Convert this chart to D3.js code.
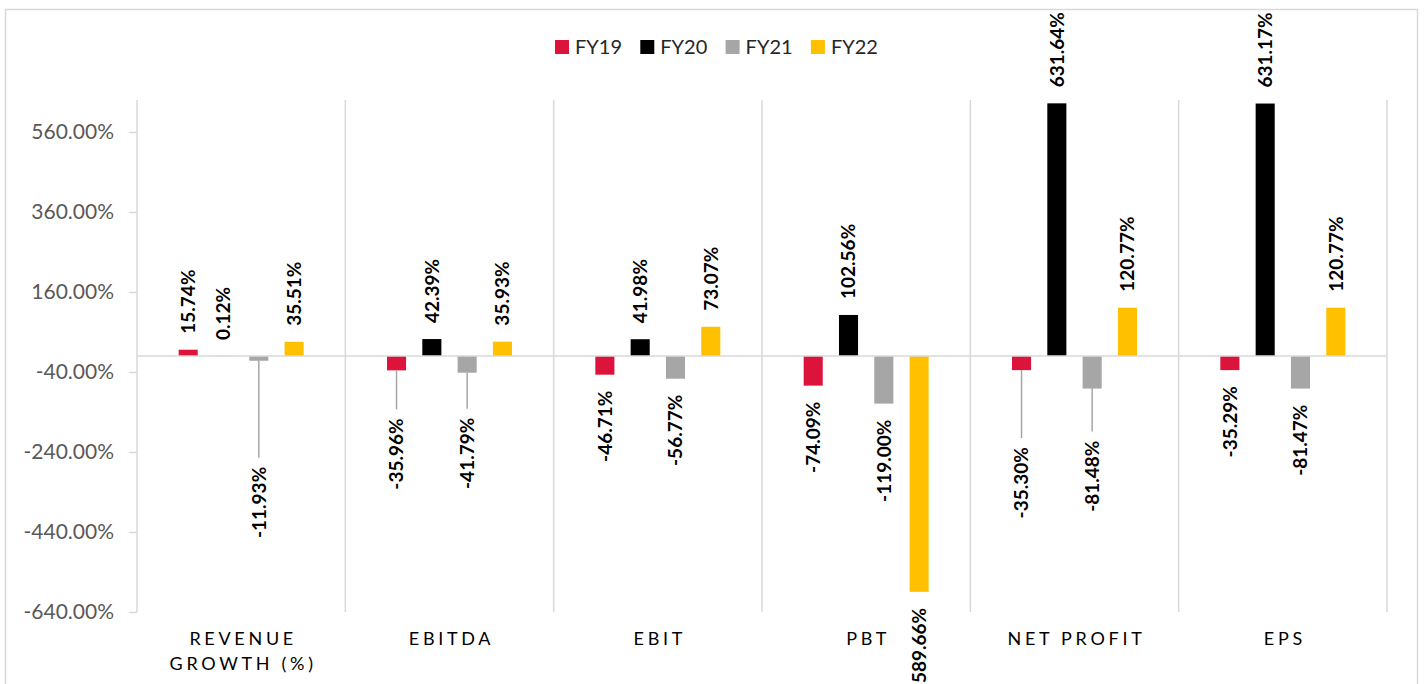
<!DOCTYPE html>
<meta charset="utf-8">
<title>Growth FY19 - FY22</title>
<style>
  body { margin: 0; background: #fff; }
  svg { display: block; font-family: Lato, "Noto Sans", sans-serif; }
</style>
<body>
<script src="https://cdn.jsdelivr.net/npm/d3@7"></script>
<script>
    // data (percent)
    const categories = ["REVENUE GROWTH (%)", "EBITDA", "EBIT", "PBT", "NET PROFIT", "EPS"];
    const seriesNames = ["FY19", "FY20", "FY21", "FY22"];
    const fy19 = [15.74, -35.96, -46.71, -74.09, -35.30, -35.29];
    const fy20 = [0.12, 42.39, 41.98, 102.56, 631.64, 631.17];
    const fy21 = [-11.93, -41.79, -56.77, -119.00, -81.48, -81.47];
    const fy22 = [35.51, 35.93, 73.07, -589.66, 120.77, 120.77];
    const yTicks = [-640, -440, -240, -40, 160, 360, 560];
    const colors = ["#dc143c", "#000000", "#a6a6a6", "#ffc000"];

    // labels that were dragged down in the original, extra px below default spot
    const labelNudge = {
        "REVENUE GROWTH (%)|FY21": 90,
        "EBITDA|FY19": 32,
        "EBITDA|FY21": 29,
        "NET PROFIT|FY19": 61,
        "NET PROFIT|FY21": 36
    };

    // plain hyphen for negatives, like the original
    const pct = v => v.toFixed(2) + "%";

    var width = 1424,
        height = 684;
    var margin = {top: 100, right: 37, bottom: 72, left: 137};

    var svg = d3.select("body").append("svg")
        .attr("width", width)
        .attr("height", height);

    // outer chart border
    svg.append("rect")
        .attr("x", 5.5).attr("y", 9.5)
        .attr("width", 1412).attr("height", 700)
        .attr("fill", "none")
        .attr("stroke", "#d9d9d9")
        .attr("stroke-width", 1.5);

    var x0 = d3.scaleBand()
        .domain(categories)
        .range([margin.left, width - margin.right]);

    var x1 = d3.scaleBand()
        .domain(seriesNames)
        .range([0, x0.bandwidth()])
        .paddingInner(0.46)
        .paddingOuter(1.18);

    var y = d3.scaleLinear()
        .domain([-640, 640])
        .range([height - margin.bottom, margin.top]);

    var color = d3.scaleOrdinal(seriesNames, colors);

    var rows = [];
    categories.forEach(function(c, i) {
        [fy19, fy20, fy21, fy22].forEach(function(arr, j) {
            rows.push({cat: c, series: seriesNames[j], value: arr[i]});
        });
    });

    // y axis: labels + short ticks
    var yAxis = d3.axisLeft(y)
        .tickValues(yTicks)
        .tickSize(8)
        .tickPadding(15)
        .tickFormat(pct);

    var ga = svg.append("g")
        .attr("transform", `translate(${margin.left},0)`)
        .call(yAxis);
    ga.select(".domain").remove();
    ga.selectAll(".tick line").attr("stroke", "#d9d9d9").attr("stroke-width", 1.5);
    ga.selectAll(".tick text")
        .attr("fill", "#595959")
        .style("font-size", "21px")
        .style("font-family", "Lato, sans-serif");

    // vertical separators between categories (and left/right edges)
    var edges = categories.map(c => x0(c)).concat([x0.range()[1]]);
    svg.append("g").selectAll("line")
        .data(edges)
        .join("line")
        .attr("x1", d => d).attr("x2", d => d)
        .attr("y1", y(640)).attr("y2", y(-640))
        .attr("stroke", "#d9d9d9")
        .attr("stroke-width", 1.5);

    // bars
    svg.append("g").selectAll("rect")
        .data(rows)
        .join("rect")
        .attr("x", d => x0(d.cat) + x1(d.series))
        .attr("width", x1.bandwidth())
        .attr("y", d => y(Math.max(0, d.value)))
        .attr("height", d => Math.abs(y(d.value) - y(0)))
        .attr("fill", d => color(d.series));

    // zero line
    svg.append("line")
        .attr("x1", x0.range()[0]).attr("x2", x0.range()[1])
        .attr("y1", y(0)).attr("y2", y(0))
        .attr("stroke", "#d9d9d9")
        .attr("stroke-width", 1.5);

    // data labels (rotated), leader lines for the dragged ones
    var gap = 16;
    var gl = svg.append("g");
    rows.forEach(function(d) {
        var cx = x0(d.cat) + x1(d.series) + x1.bandwidth() / 2;
        var nudge = labelNudge[d.cat + "|" + d.series] || 0;
        var ly;
        if (d.value >= 0) {
            ly = y(d.value) - gap;
        } else {
            ly = y(d.value) + gap + nudge;
            if (nudge) {
                gl.append("line")
                    .attr("x1", cx).attr("x2", cx)
                    .attr("y1", y(d.value)).attr("y2", ly - 9)
                    .attr("stroke", "#a6a6a6")
                    .attr("stroke-width", 1.5);
            }
        }
        gl.append("text")
            .attr("transform", `translate(${cx},${ly}) rotate(-90)`)
            .attr("text-anchor", d.value >= 0 ? "start" : "end")
            .attr("dy", "0.36em")
            .style("font-size", "19px")
            .style("font-weight", "bold")
            .attr("fill", "#000")
            .text(pct(d.value));
    });

    // category labels, wrapped when wider than the band
    var gc = svg.append("g");
    categories.forEach(function(c) {
        var t = gc.append("text")
            .attr("x", x0(c) + x0.bandwidth() / 2 + 2)
            .attr("y", 645)
            .attr("text-anchor", "middle")
            .style("font-size", "18px")
            .style("letter-spacing", "3.7px")
            .attr("fill", "#000");
        var words = c.split(" ");
        t.text(c);
        if (t.node().getComputedTextLength() > x0.bandwidth() - 10) {
            t.text(null);
            t.append("tspan").attr("x", t.attr("x")).text(words[0]);
            t.append("tspan").attr("x", t.attr("x")).attr("dy", 25).text(words.slice(1).join(" "));
        }
    });

    // legend
    var lg = svg.append("g").attr("transform", "translate(555,40)");
    var li = lg.selectAll("g")
        .data(seriesNames)
        .join("g")
        .attr("transform", (d, i) => `translate(${i * 85.3},0)`);
    li.append("rect")
        .attr("width", 14).attr("height", 14)
        .attr("fill", d => color(d));
    li.append("text")
        .attr("x", 20).attr("y", 7)
        .attr("dy", "0.36em")
        .style("font-size", "20px")
        .attr("fill", "#262626")
        .text(d => d);
</script>
</body>
